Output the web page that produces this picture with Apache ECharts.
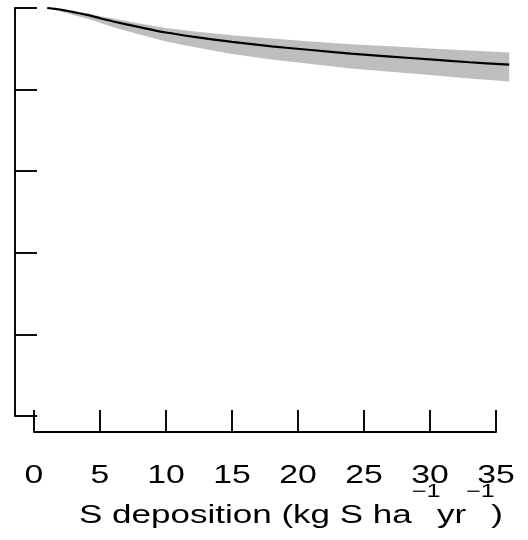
<!DOCTYPE html>
<html>
<head>
<meta charset="utf-8">
<script src="https://cdn.jsdelivr.net/npm/echarts@6/dist/echarts.min.js"></script>
<style>
html,body{margin:0;padding:0;background:#fff;}
#chart{width:528px;height:540px;}
</style>
</head>
<body>
<div id="chart"></div>
<script>
// ---- data ----
const xValues = [1, 2, 3, 4, 5, 6, 8, 10, 12, 15, 18, 21, 24, 27, 30, 33, 36];
const meanValues = [1.000, 0.996, 0.990, 0.983, 0.975, 0.967, 0.953, 0.940, 0.930, 0.917, 0.906, 0.897, 0.888, 0.881, 0.874, 0.867, 0.861];
const upperValues = [1.000, 0.997, 0.992, 0.987, 0.980, 0.974, 0.962, 0.951, 0.943, 0.933, 0.925, 0.918, 0.911, 0.906, 0.901, 0.896, 0.891];
const lowerValues = [1.000, 0.992, 0.983, 0.974, 0.964, 0.953, 0.935, 0.918, 0.905, 0.887, 0.874, 0.863, 0.852, 0.844, 0.836, 0.827, 0.820];
const xTicks = [0, 5, 10, 15, 20, 25, 30, 35];
const xTickLabels = ['0', '5', '10', '15', '20', '25', '30', '35'];
const xTitleParts = ['S deposition (kg S ha', '\u22121', 'yr', '\u22121', ')'];

const FONT = '"Liberation Sans", Arial, Helvetica, sans-serif';
const chart = echarts.init(document.getElementById('chart'), null, {renderer: 'canvas'});

const meanData = xValues.map((x, i) => [x, meanValues[i]]);

const option = {
  animation: false,
  backgroundColor: '#ffffff',
  grid: [
    {left: 34, top: 8, width: 475.2, height: 408, containLabel: false},
    {left: 34, top: 8, width: 462, height: 424, containLabel: false},
    {left: 15, top: 8, width: 10, height: 408, containLabel: false}
  ],
  xAxis: [
    {gridIndex: 0, type: 'value', min: 0, max: 36, show: false},
    {gridIndex: 1, type: 'value', min: 0, max: 35, interval: 5, position: 'bottom',
      axisLine: {show: true, lineStyle: {color: '#000', width: 1.9}},
      axisTick: {show: true, inside: true, length: 22, lineStyle: {color: '#000', width: 1.9}},
      axisLabel: {show: false}, splitLine: {show: false}},
    {gridIndex: 2, type: 'value', min: 0, max: 1, show: false}
  ],
  yAxis: [
    {gridIndex: 0, type: 'value', min: 0, max: 1, show: false},
    {gridIndex: 1, type: 'value', min: 0, max: 1, show: false},
    {gridIndex: 2, type: 'value', min: 0, max: 1, interval: 0.2, position: 'left',
      axisLine: {show: true, lineStyle: {color: '#000', width: 1.9}},
      axisTick: {show: true, inside: true, length: 22, lineStyle: {color: '#000', width: 1.9}},
      axisLabel: {show: false}, splitLine: {show: false}}
  ],
  series: [
    {type: 'custom', xAxisIndex: 0, yAxisIndex: 0, data: [[xValues[0], meanValues[0]]], silent: true, z: 2,
      renderItem: function (params, api) {
        const pts = [];
        for (let i = 0; i < xValues.length; i++) pts.push(api.coord([xValues[i], upperValues[i]]));
        for (let i = xValues.length - 1; i >= 0; i--) pts.push(api.coord([xValues[i], lowerValues[i]]));
        return {type: 'polygon', shape: {points: pts}, style: {fill: '#bebebe', stroke: null}};
      }},
    {type: 'line', xAxisIndex: 0, yAxisIndex: 0, data: meanData,
      smooth: 0.3, symbol: 'none', lineStyle: {color: '#000', width: 2.2}, silent: true, z: 5}
  ]
};
chart.setOption(option);

// tick labels and axis title as text, positioned through the x axis scale
const SX = 1.35;
const graphics = xTicks.map((v, i) => {
  const px = chart.convertToPixel({xAxisIndex: 1}, v);
  return {
    type: 'text', x: px, y: 476, scaleX: SX, scaleY: 1,
    style: {text: xTickLabels[i], x: 0, y: 0, fill: '#000', fontSize: 25, fontFamily: FONT,
      textAlign: 'center', textVerticalAlign: 'middle', verticalAlign: 'middle'}
  };
});
graphics.push({
  type: 'text', x: 291, y: 516, scaleX: 1.4, scaleY: 1,
  style: {
    x: 0, y: 0,
    text: '{m|' + xTitleParts[0] + '}{s|' + xTitleParts[1] + '}{m|' + xTitleParts[2] + '}{s|' + xTitleParts[3] + '}{m|' + xTitleParts[4] + '}',
    textAlign: 'center', textVerticalAlign: 'middle', verticalAlign: 'middle',
    fill: '#000', fontSize: 25, fontFamily: FONT,
    rich: {
      m: {fontSize: 25, fontFamily: FONT, lineHeight: 66, fill: '#000', align: 'left'},
      s: {fontSize: 18, fontFamily: FONT, lineHeight: 18, width: 18, verticalAlign: 'top', fill: '#000', align: 'left'}
    }
  }
});
chart.setOption({graphic: graphics});
</script>
</body>
</html>
